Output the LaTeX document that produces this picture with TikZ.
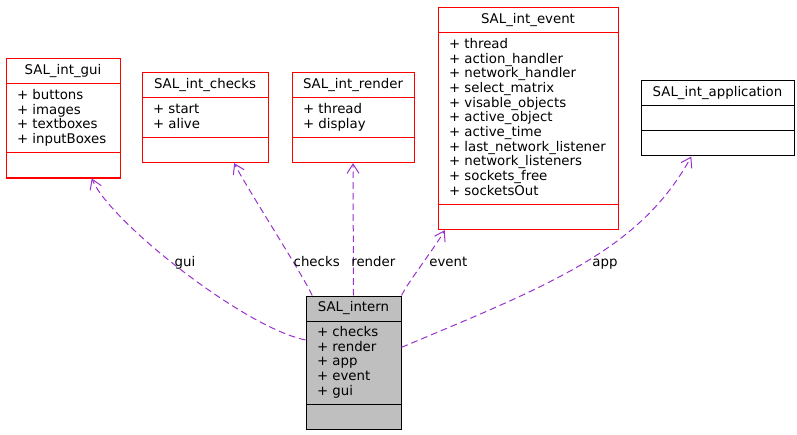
\documentclass[tikz,border=0pt]{standalone}
\usepackage{fontspec}
\setmainfont{DejaVu Sans}
\usepackage{tikz}
\usetikzlibrary{positioning}
\usetikzlibrary{calc,shapes.multipart}
\usetikzlibrary{arrows.meta}
\definecolor{usecol}{HTML}{9A32CD}
\definecolor{interngray}{HTML}{BFBFBF}
\definecolor{classred}{HTML}{FF0000}
\tikzstyle{class}=[rectangle split,rectangle split parts=3,draw,line width=0.75pt,
                   rectangle split part align={center,left,left},
                   inner xsep=8.25pt,inner ysep=3.5pt,anchor=north west,
                   font=\fontsize{10}{11}\selectfont]
\tikzstyle{rclass}=[class,draw=classred]
\tikzstyle{usage}=[->,usecol,line width=0.75pt,dash pattern=on 5pt off 3pt]
\tikzstyle{role}=[font=\fontsize{10}{11}\selectfont,anchor=base,inner sep=0]
\tikzset{>={Straight Barb[length=7pt,width=9pt]}}

\begin{document}
\begin{tikzpicture}[x=0.75pt,y=-0.75pt]

\useasboundingbox (0,0) rectangle (797,435);

% Classes
\node[rclass,minimum width=85.5pt] (gui) at (5.5,58.5)
  {SAL\_int\_gui\strut
   \nodepart{two}\begin{tabular}{@{}l@{}}+ buttons\\+ images\\+ textboxes\\+ inputBoxes\end{tabular}
   \nodepart{three}\strut};

\node[rclass,minimum width=94.5pt] (checks) at (141.5,72.5)
  {SAL\_int\_checks\strut
   \nodepart{two}\begin{tabular}{@{}l@{}}+ start\\+ alive\end{tabular}
   \nodepart{three}\strut};

\node[rclass,minimum width=91.5pt] (render) at (291.5,72.5)
  {SAL\_int\_render\strut
   \nodepart{two}\begin{tabular}{@{}l@{}}+ thread\\+ display\end{tabular}
   \nodepart{three}\strut};

\node[rclass,minimum width=135pt] (event) at (437.5,7.5)
  {SAL\_int\_event\strut
   \nodepart{two}\begin{tabular}{@{}l@{}}+ thread\\+ action\_handler\\+ network\_handler\\
     + select\_matrix\\+ visable\_objects\\+ active\_object\\+ active\_time\\
     + last\_network\_listener\\+ network\_listeners\\+ sockets\_free\\+ socketsOut\end{tabular}
   \nodepart{three}\strut};

\node[class,minimum width=114.75pt] (app) at (640.5,80.5)
  {SAL\_int\_application\strut
   \nodepart{two}\strut
   \nodepart{three}\strut};

% Main class
\node[class,fill=interngray,minimum width=71.25pt] (intern) at (305.5,295.5)
  {SAL\_intern\strut
   \nodepart{two}\begin{tabular}{@{}l@{}}+ checks\\+ render\\+ app\\+ event\\+ gui\end{tabular}
   \nodepart{three}\strut};

% Usage relations
\draw[usage] ($(intern.north west)!0.33!(intern.south west)$)
  .. controls (245,328) and (110,222) .. ($(gui.south west)!0.75!(gui.south east)$);
\draw[usage] ($(intern.north west)!0.07!(intern.north east)$)
  .. controls (303,275) and (245,185) .. ($(checks.south west)!0.73!(checks.south east)$);
\draw[usage] (intern.north) -- (render.south);
\draw[usage] (intern.north east)
  .. controls (408,282) and (436,246) .. ($(event.south west)!0.04!(event.south east)$);
\draw[usage] ($(intern.north east)!0.385!(intern.south east)$)
  .. controls (550,285) and (640,250) .. ($(app.south west)!0.33!(app.south east)$);

% Role labels
\node[role] (lgui) at (185,266) {gui};
\node[role] (lchecks) at (316.7,266) {checks};
\node[role] (lrender) at (373.3,266) {render};
\node[role] (levent) at (448.3,266) {event};
\node[role] (lapp) at (605,266) {app};

\end{tikzpicture}
\end{document}
